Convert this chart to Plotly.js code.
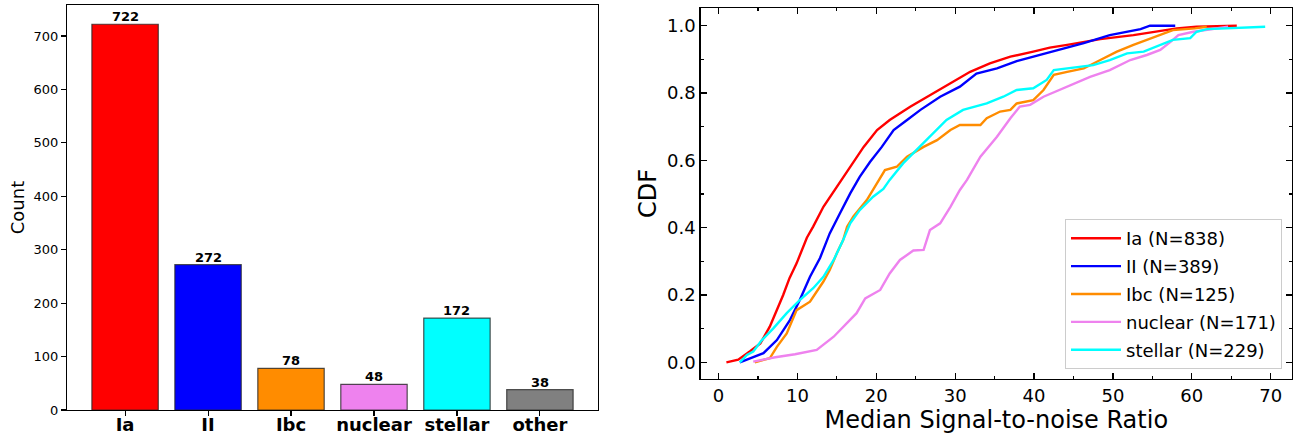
<!DOCTYPE html>
<html><head><meta charset="utf-8">
<script src="https://cdn.plot.ly/plotly-3.0.1.min.js"></script>
<style>html,body{margin:0;padding:0;background:#fff}#chart{width:1294px;height:434px}</style>
</head><body><div id="chart"></div>
<script>
// ---- Data: left panel (counts per class) ----
const categories = ['Ia', 'II', 'Ibc', 'nuclear', 'stellar', 'other'];
const counts = [722, 272, 78, 48, 172, 38];
const barColors = ['#ff0000', '#0000ff', '#ff8c00', '#ee82ee', '#00ffff', '#808080'];

// ---- Data: right panel (CDF of median S/N) ----
const iaX = [1.0, 2.5, 4.0, 5.3, 6.5, 7.4, 8.2, 9.0, 9.9, 11.2, 12.0, 13.3, 15.0, 16.7, 18.4, 20.1, 21.7, 24.3, 26.8, 29.4, 31.9, 34.4, 37.0, 39.9, 42.0, 44.2, 48.4, 52.6, 56.0, 58.1, 60.6, 63.0, 65.7];
const iaY = [0.0, 0.008, 0.033, 0.056, 0.106, 0.155, 0.2, 0.25, 0.294, 0.37, 0.403, 0.462, 0.522, 0.581, 0.64, 0.69, 0.72, 0.759, 0.794, 0.829, 0.863, 0.888, 0.908, 0.923, 0.935, 0.943, 0.96, 0.972, 0.985, 0.992, 0.997, 0.999, 1.0];

const iiX = [2.7, 4.0, 5.7, 7.4, 9.07, 10.3, 11.6, 12.87, 14.1, 15.4, 16.7, 17.9, 19.2, 20.7, 22.2, 23.9, 25.6, 28.1, 30.6, 32.7, 35.3, 37.8, 39.9, 42.9, 46.3, 49.6, 51.8, 53.5, 54.7, 57.9];
const iiY = [0.0, 0.012, 0.027, 0.066, 0.126, 0.185, 0.254, 0.31, 0.383, 0.443, 0.502, 0.551, 0.595, 0.64, 0.69, 0.72, 0.75, 0.789, 0.819, 0.858, 0.873, 0.895, 0.908, 0.928, 0.948, 0.972, 0.982, 0.99, 1.0, 1.0];

const ibcX = [4.6, 6.5, 7.4, 8.65, 9.9, 11.6, 13.3, 14.1, 15.0, 15.8, 16.3, 17.1, 18.8, 19.8, 21.1, 22.6, 23.9, 26.0, 27.7, 29.4, 30.6, 33.2, 34.0, 35.7, 37.0, 37.8, 39.9, 41.2, 42.5, 44.2, 46.3, 48.4, 50.5, 52.6, 54.3, 56.0, 57.6, 60.4, 61.9];
const ibcY = [0.0, 0.012, 0.046, 0.086, 0.155, 0.18, 0.24, 0.274, 0.324, 0.363, 0.403, 0.433, 0.482, 0.522, 0.571, 0.581, 0.611, 0.64, 0.66, 0.69, 0.705, 0.705, 0.725, 0.745, 0.75, 0.769, 0.779, 0.809, 0.854, 0.863, 0.873, 0.898, 0.923, 0.943, 0.958, 0.972, 0.987, 0.992, 0.997];

const nucX = [4.4, 7.2, 9.7, 12.45, 14.6, 16.3, 17.5, 18.6, 20.5, 21.7, 23.0, 24.7, 26.0, 26.8, 28.1, 29.4, 30.6, 31.5, 33.2, 35.3, 37.0, 38.2, 39.5, 41.2, 44.2, 47.1, 49.6, 52.2, 54.3, 56.0, 57.3, 58.3, 60.2, 63.2, 64.6];
const nucY = [0.002, 0.015, 0.024, 0.037, 0.076, 0.116, 0.146, 0.19, 0.215, 0.264, 0.304, 0.332, 0.334, 0.393, 0.413, 0.462, 0.512, 0.542, 0.611, 0.67, 0.725, 0.76, 0.765, 0.789, 0.819, 0.848, 0.868, 0.898, 0.913, 0.928, 0.952, 0.972, 0.982, 0.992, 0.997];

const stelX = [2.7, 3.6, 4.4, 5.5, 6.95, 8.65, 10.3, 12.0, 13.3, 14.6, 15.8, 16.7, 17.9, 19.6, 20.9, 21.7, 23.4, 26.4, 28.9, 31.0, 34.0, 36.1, 37.8, 39.9, 41.6, 42.5, 44.2, 47.5, 49.6, 51.8, 53.9, 55.6, 57.6, 59.8, 60.6, 61.9, 68.0, 69.3];
const stelY = [0.0, 0.022, 0.032, 0.066, 0.101, 0.146, 0.185, 0.22, 0.254, 0.304, 0.363, 0.413, 0.452, 0.492, 0.515, 0.542, 0.591, 0.66, 0.72, 0.75, 0.769, 0.789, 0.809, 0.814, 0.839, 0.868, 0.873, 0.883, 0.898, 0.918, 0.923, 0.938, 0.958, 0.963, 0.982, 0.99, 0.994, 0.997];

const seriesNames = ['Ia (N=838)', 'II (N=389)', 'Ibc (N=125)', 'nuclear (N=171)', 'stellar (N=229)'];
const lineColors = ['#ff0000', '#0000ff', '#ff8c00', '#ee82ee', '#00ffff'];
const xs = [iaX, iiX, ibcX, nucX, stelX];
const ys = [iaY, iiY, ibcY, nucY, stelY];

const FONT = 'DejaVu Sans, Liberation Sans, sans-serif';

const traces = [{
  type: 'bar', x: categories, y: counts, xaxis: 'x', yaxis: 'y',
  marker: { color: barColors, line: { color: 'rgba(40,40,40,0.8)', width: 1.2 } },
  width: 0.8,
  showlegend: false, hoverinfo: 'x+y'
}];

for (let i = 0; i < xs.length; i++) {
  traces.push({
    type: 'scatter', mode: 'lines', x: xs[i], y: ys[i], xaxis: 'x2', yaxis: 'y2',
    name: seriesNames[i], legendgroup: 'g' + i,
    line: { color: lineColors[i], width: 2.4 }
  });
}

// value labels above bars
const barLabels = categories.map((c, i) => ({
  x: c, y: counts[i], xref: 'x', yref: 'y',
  text: String(counts[i]), showarrow: false,
  yanchor: 'bottom', xanchor: 'center', borderpad: 0, yshift: -1,
  font: { family: FONT, size: 13, color: '#000', weight: 'bold' }
}));

const W = 1294, H = 434;
const layout = {
  width: W, height: H,
  margin: { l: 0, r: 0, t: 0, b: 0 },
  paper_bgcolor: '#fff', plot_bgcolor: '#fff',
  font: { family: FONT, color: '#000' },
  showlegend: true,
  annotations: barLabels,
  xaxis: {
    domain: [67 / W, 598 / W], range: [-0.7, 5.7], anchor: 'y',
    showline: true, linecolor: '#000', linewidth: 1.1, mirror: true,
    ticks: 'outside', ticklen: 5, tickcolor: '#000', tickwidth: 1.1,
    ticklabelstandoff: -7,
    tickfont: { family: FONT, size: 18, weight: 'bold' },
    showgrid: false, zeroline: false, fixedrange: true
  },
  yaxis: {
    domain: [1 - 410 / H, 1 - 5 / H], range: [0, 758], anchor: 'x',
    tick0: 0, dtick: 100,
    showline: true, linecolor: '#000', linewidth: 1.1, mirror: true,
    ticks: 'outside', ticklen: 5, tickcolor: '#000', tickwidth: 1.1,
    tickfont: { family: FONT, size: 13 },
    title: { text: 'Count', font: { family: FONT, size: 18 }, standoff: 4 },
    showgrid: false, zeroline: false
  },
  xaxis2: {
    domain: [700.6 / W, 1292 / W], range: [-2.27, 72.7], anchor: 'y2',
    tick0: 0, dtick: 10,
    showline: true, linecolor: '#000', linewidth: 1.3, mirror: 'allticks',
    ticks: 'inside', ticklen: 6, tickcolor: '#000', tickwidth: 1.3,
    minor: { dtick: 5, ticks: 'inside', ticklen: 3, tickcolor: '#000', tickwidth: 1.1 },
    tickfont: { family: FONT, size: 18 },
    title: { text: 'Median Signal-to-noise Ratio', font: { family: FONT, size: 24 }, standoff: 8 },
    showgrid: false, zeroline: false
  },
  yaxis2: {
    domain: [1 - 379 / H, 1 - 8 / H], range: [-0.0496, 1.0526], anchor: 'x2',
    tick0: 0, dtick: 0.2, tickformat: '.1f',
    showline: true, linecolor: '#000', linewidth: 1.3, mirror: 'allticks',
    ticks: 'inside', ticklen: 6, tickcolor: '#000', tickwidth: 1.3,
    minor: { dtick: 0.1, ticks: 'inside', ticklen: 3, tickcolor: '#000', tickwidth: 1.1 },
    tickfont: { family: FONT, size: 18 },
    title: { text: 'CDF', font: { family: FONT, size: 24 }, standoff: 3 },
    showgrid: false, zeroline: false
  },
  legend: {
    x: 1282 / W, xanchor: 'right', y: 1 - 369 / H, yanchor: 'bottom',
    bgcolor: 'rgba(255,255,255,0.8)', bordercolor: '#cccccc', borderwidth: 1,
    font: { family: FONT, size: 18 }, tracegroupgap: 1.5, traceorder: 'grouped',
    itemwidth: 50
  }
};

Plotly.newPlot('chart', traces, layout, { staticPlot: true });
</script></body></html>
